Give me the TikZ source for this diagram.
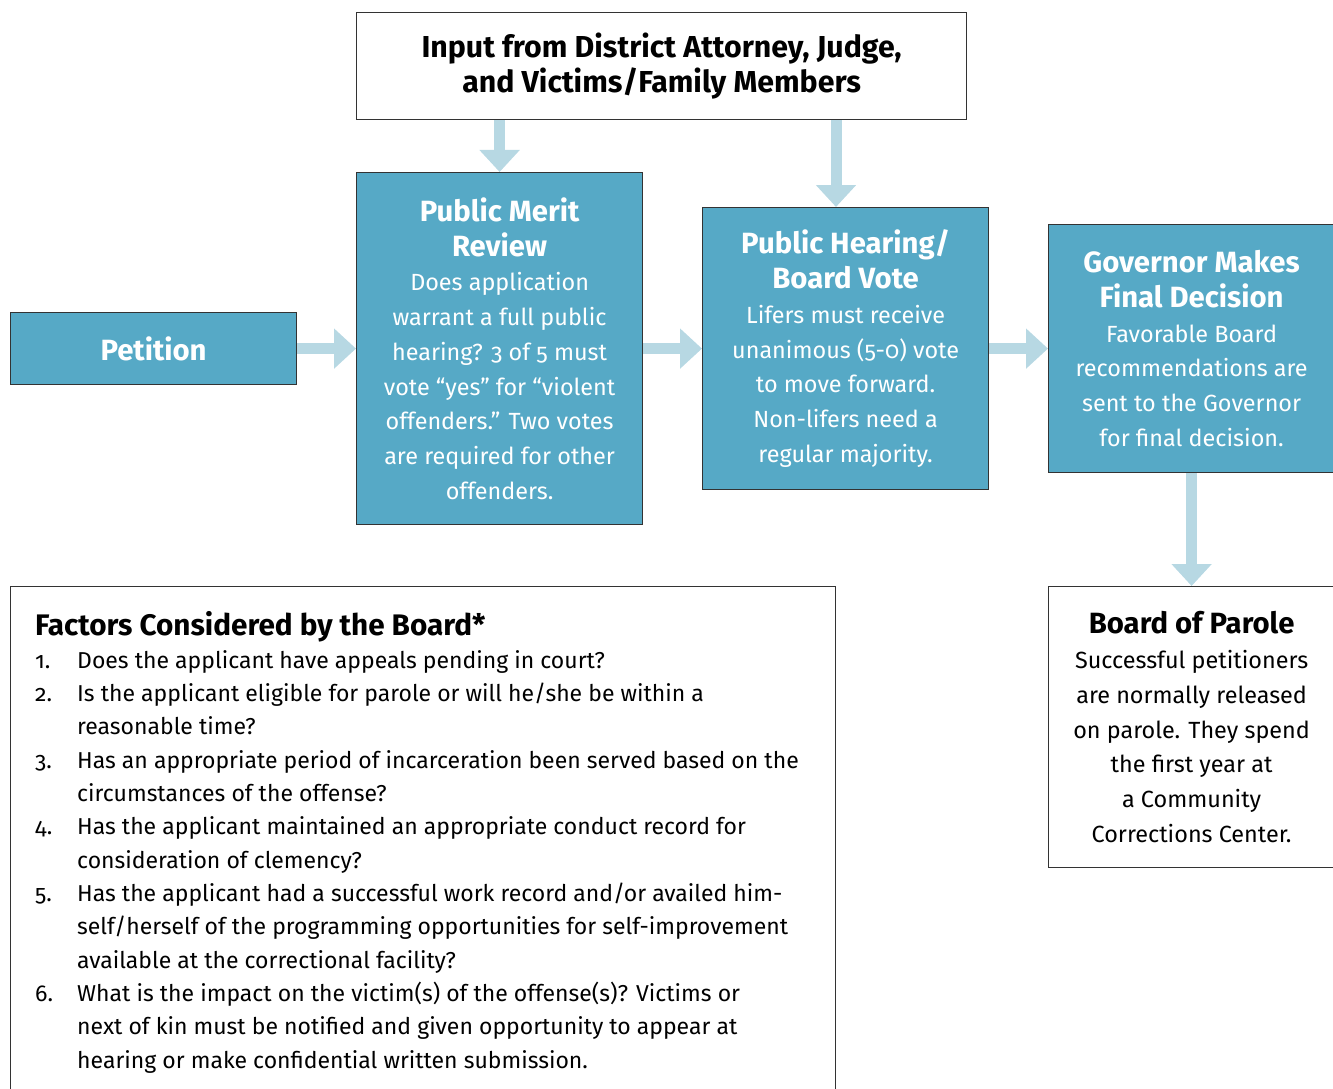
\documentclass[tikz,border=0pt]{standalone}
\usepackage{fontspec}
\setmainfont{Fira Sans}[Numbers=OldStyle]
\usetikzlibrary{arrows.meta}
\definecolor{boxteal}{HTML}{56A9C6}
\definecolor{arrowblue}{HTML}{B7D8E3}
\definecolor{edgegray}{HTML}{333333}
\newcommand{\hdf}{\fontsize{29.3}{34.7}\selectfont\bfseries}
\newcommand{\bdf}{\fontsize{23.4}{34.7}\selectfont\mdseries}
\newcommand{\itm}[1]{\makebox[42pt][l]{#1}}
\newcommand{\cnt}{\hspace*{42pt}}
\begin{document}
\begin{tikzpicture}[x=1pt,y=-1pt,
  box/.style={draw=edgegray, line width=1.2pt, minimum width=286pt, inner sep=0pt,
    text width=284pt, align=flush center, anchor=north west, font=\bdf},
  tbox/.style={box, fill=boxteal, text=white},
  wbox/.style={box, fill=white, text=black},
  arr/.style={draw=arrowblue, line width=11pt, -{Triangle[width=39pt,length=22pt]}},
  lbl/.style={inner sep=0pt, anchor=base west}]
\useasboundingbox (0,0) rectangle (1333,1089);
\begin{scope}
\clip (0,0) rectangle (1333,1089);
\node[wbox, minimum width=610pt, text width=600pt, minimum height=107pt] (input) at (356,12)
  {\fontsize{30.3}{35}\selectfont\bfseries Input from District Attorney, Judge,\\ and Victims/Family Members};
\node[tbox, minimum height=72pt] (petition) at (10,312) {\hdf Petition};
\node[tbox, minimum height=352pt] (merit) at (356,172)
  {\hdf Public Merit\\ Review\\ \bdf Does application\\ warrant a full public\\ hearing? 3 of 5 must\\ vote “yes” for “violent\\ offenders.” Two votes\\ are required for other\\ offenders.};
\node[tbox, minimum height=282pt] (hearing) at (702,207)
  {\hdf Public Hearing/\\ Board Vote\\ \bdf Lifers must receive\\ unanimous (5-0) vote\\ to move forward.\\ Non-lifers need a\\ regular majority.};
\node[tbox, minimum height=248pt] (governor) at (1048,224)
  {\hdf Governor Makes\\ Final Decision\\ \bdf Favorable Board\\ recommendations are\\ sent to the Governor\\ for final decision.};
\node[wbox, minimum height=281pt] (parole) at (1048,586)
  {\hdf Board of Parole\\ \bdf Successful petitioners\\ are normally released\\ on parole. They spend\\ the first year at\\ a Community\\ Corrections Center.};
\node[wbox, minimum width=825pt, text width=800pt, minimum height=560pt] (factors) at (10,586) {};
\node[lbl] (fhead) at (35,635) {\fontsize{29.7}{34}\selectfont\bfseries Factors Considered by the Board*};
\node[lbl] (flist) at (35,668) {\parbox[t]{790pt}{\fontsize{23}{33.35}\selectfont\raggedright
\itm{1.}Does the applicant have appeals pending in court?\\
\itm{2.}Is the applicant eligible for parole or will he/she be within a\\
\cnt reasonable time?\\
\itm{3.}Has an appropriate period of incarceration been served based on the\\
\cnt circumstances of the offense?\\
\itm{4.}Has the applicant maintained an appropriate conduct record for\\
\cnt consideration of clemency?\\
\itm{5.}Has the applicant had a successful work record and/or availed him-\\
\cnt self/herself of the programming opportunities for self-improvement\\
\cnt available at the correctional facility?\\
\itm{6.}What is the impact on the victim(s) of the offense(s)? Victims or\\
\cnt next of kin must be notified and given opportunity to appear at\\
\cnt hearing or make confidential written submission.}};
\coordinate (hx) at (836,0);
\draw[arr] (petition.east) -- (merit.west);
\draw[arr] (merit.east) -- (hearing.west);
\draw[arr] (hearing.east) -- (governor.west);
\draw[arr] (input.south -| merit.north) -- (merit.north);
\draw[arr] (input.south -| hx) -- (hearing.north -| hx);
\draw[arr] (governor.south) -- (parole.north);
\end{scope}
\end{tikzpicture}
\end{document}
